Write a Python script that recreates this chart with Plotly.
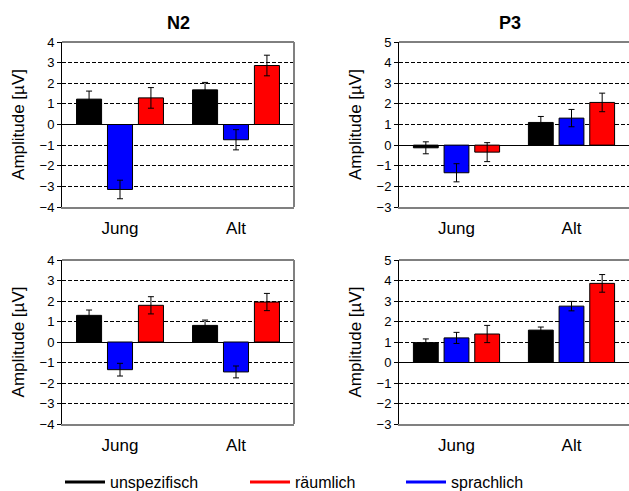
import plotly.graph_objects as go

categories = ["Jung", "Alt"]
series_names = ["unspezifisch", "sprachlich", "räumlich"]
series_colors = ["#000000", "#0000FF", "#FF0000"]
legend_order = ["unspezifisch", "räumlich", "sprachlich"]

# N2 top
n2a_unspez = [1.23, 1.68]
n2a_unspez_err = [0.39, 0.36]
n2a_sprach = [-3.15, -0.74]
n2a_sprach_err = [0.45, 0.49]
n2a_raeum = [1.29, 2.86]
n2a_raeum_err = [0.50, 0.50]
# P3 top
p3a_unspez = [-0.13, 1.10]
p3a_unspez_err = [0.29, 0.29]
p3a_sprach = [-1.34, 1.31]
p3a_sprach_err = [0.44, 0.42]
p3a_raeum = [-0.34, 2.07]
p3a_raeum_err = [0.46, 0.45]
# N2 bottom
n2b_unspez = [1.30, 0.81]
n2b_unspez_err = [0.26, 0.26]
n2b_sprach = [-1.35, -1.46]
n2b_sprach_err = [0.31, 0.29]
n2b_raeum = [1.79, 1.95]
n2b_raeum_err = [0.42, 0.42]
# P3 bottom
p3b_unspez = [0.97, 1.58]
p3b_unspez_err = [0.18, 0.15]
p3b_sprach = [1.20, 2.75]
p3b_sprach_err = [0.27, 0.23]
p3b_raeum = [1.39, 3.86]
p3b_raeum_err = [0.42, 0.43]

panels = [
    ("x", "y", [(n2a_unspez, n2a_unspez_err), (n2a_sprach, n2a_sprach_err), (n2a_raeum, n2a_raeum_err)]),
    ("x2", "y2", [(p3a_unspez, p3a_unspez_err), (p3a_sprach, p3a_sprach_err), (p3a_raeum, p3a_raeum_err)]),
    ("x3", "y3", [(n2b_unspez, n2b_unspez_err), (n2b_sprach, n2b_sprach_err), (n2b_raeum, n2b_raeum_err)]),
    ("x4", "y4", [(p3b_unspez, p3b_unspez_err), (p3b_sprach, p3b_sprach_err), (p3b_raeum, p3b_raeum_err)]),
]

W, H = 629, 491
FONT = "Liberation Sans, Arial, sans-serif"

fig = go.Figure()
for xa, ya, series in panels:
    for (vals, errs), name, col in zip(series, series_names, series_colors):
        fig.add_trace(go.Bar(
            x=categories, y=vals, name=name, xaxis=xa, yaxis=ya,
            marker=dict(color=col, line=dict(color="#000000", width=1)),
            error_y=dict(type="data", array=errs, visible=True, color="#000000",
                         thickness=1, width=3),
            showlegend=False, offsetgroup=name,
        ))

# legend entries
for i, name in enumerate(legend_order):
    col = series_colors[series_names.index(name)]
    fig.add_trace(go.Scatter(
        x=[None], y=[None], mode="lines", name=name, xaxis="x", yaxis="y",
        line=dict(color=col, width=3), showlegend=True,
        legend="legend" if i == 0 else f"legend{i+1}",
    ))

xl = [62 / W, 294 / W]
xr = [399 / W, 1.0]
yt = [1 - 207 / H, 1 - 42 / H]
yb = [1 - 424 / H, 1 - 260 / H]

def xaxis(dom, anchor):
    return dict(domain=dom, anchor=anchor, showline=True, linecolor="#808080", linewidth=2,
                ticks="", showgrid=False, zeroline=False,
                tickfont=dict(size=17, color="#000000"), ticklabelstandoff=5,
                fixedrange=True)

def yaxis(dom, anchor, rng):
    return dict(domain=dom, anchor=anchor, range=rng, dtick=1, tick0=0,
                showline=True, linecolor="#000000", linewidth=1,
                ticks="outside", ticklen=4, tickcolor="#000000",
                showgrid=True, gridcolor="#000000", gridwidth=1, griddash="4px,2px",
                zeroline=True, zerolinecolor="#000000", zerolinewidth=1,
                tickfont=dict(size=13, color="#000000"),
                title=dict(text="Amplitude [µV]", font=dict(size=17, color="#000000"), standoff=10),
                fixedrange=True)

leg_common = dict(orientation="h", yanchor="middle", y=1 - 482 / H, xanchor="left",
                  bgcolor="rgba(0,0,0,0)", borderwidth=0,
                  font=dict(size=16, color="#000000", family=FONT), itemwidth=40)

fig.update_layout(
    width=W, height=H, margin=dict(l=0, r=0, t=0, b=0, autoexpand=False),
    paper_bgcolor="white", plot_bgcolor="white",
    font=dict(family=FONT, color="#000000"),
    barmode="group", bargap=0.2, bargroupgap=0.19,
    xaxis=xaxis(xl, "y"), yaxis=yaxis(yt, "x", [-4, 4]),
    xaxis2=xaxis(xr, "y2"), yaxis2=yaxis(yt, "x2", [-3, 5]),
    xaxis3=xaxis(xl, "y3"), yaxis3=yaxis(yb, "x3", [-4, 4]),
    xaxis4=xaxis(xr, "y4"), yaxis4=yaxis(yb, "x4", [-3, 5]),
    legend=dict(x=60 / W, **leg_common),
    legend2=dict(x=245 / W, **leg_common),
    legend3=dict(x=401 / W, **leg_common),
    showlegend=True,
)

# frame lines (top black, right gray)
for xa, ya, right in [("x", "y", True), ("x2", "y2", False), ("x3", "y3", True), ("x4", "y4", False)]:
    fig.add_shape(type="line", xref=f"{xa} domain", yref=f"{ya} domain",
                  x0=0, x1=1, y0=1, y1=1, line=dict(color="#000000", width=1))
    if right:
        fig.add_shape(type="line", xref=f"{xa} domain", yref=f"{ya} domain",
                      x0=1, x1=1, y0=0, y1=1, line=dict(color="#808080", width=2))

fig.add_annotation(text="<b>N2</b>", x=178 / W, y=1 - 23 / H, xref="paper", yref="paper",
                   xanchor="center", yanchor="middle",
                   showarrow=False, font=dict(size=18, color="#000000"))
fig.add_annotation(text="<b>P3</b>", x=510 / W, y=1 - 23 / H, xref="paper", yref="paper",
                   xanchor="center", yanchor="middle",
                   showarrow=False, font=dict(size=18, color="#000000"))

fig.write_html("out.html", config={"displayModeBar": False},
               post_script="document.body.style.margin='0';document.body.style.overflow='hidden';")
